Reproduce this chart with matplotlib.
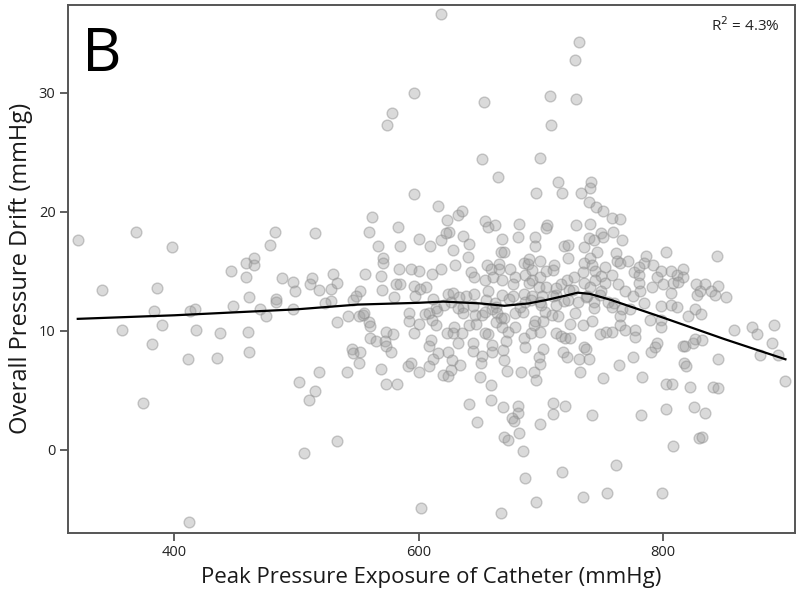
import matplotlib
matplotlib.use("Agg")
import matplotlib.pyplot as plt
import numpy as np

plt.rcParams['font.family'] = ['Open Sans', 'DejaVu Sans']

# ---- data ----
x_left = [321, 341, 369, 386, 398, 446, 459, 459, 465, 465, 478, 482, 488, 497, 499, 461, 483,
          357, 382, 383, 390, 374, 411, 412, 413, 417, 418, 435, 437, 448, 461, 460, 470, 475, 483, 497, 502]
y_left = [17.6, 13.4, 18.3, 13.6, 17.0, 15.0, 15.7, 14.5, 16.1, 15.5, 17.2, 18.3, 14.4, 14.1, 13.3, 12.8, 12.7,
          10.1, 8.9, 11.7, 10.5, 3.9, 7.6, -6.1, 11.7, 11.8, 10.1, 7.7, 9.8, 12.1, 8.2, 9.9, 11.8, 11.2, 12.4, 11.8, 5.7]

x_top = [618, 731, 728, 596, 653, 707, 729, 708, 574, 578]
y_top = [36.6, 34.3, 32.8, 30.0, 29.2, 29.7, 29.5, 27.3, 27.3, 28.3]

x_b = [596, 562, 515, 559, 583, 600, 567, 585, 571, 571, 584, 594, 600, 556, 569, 530, 513, 511, 518, 528,
       533, 570, 581, 585, 596, 601, 552, 549, 546, 528, 523, 580, 597,
       542, 533, 551, 554, 555, 559, 560, 592, 592, 600, 596, 605, 573, 579, 560, 565, 572, 573, 545, 552,
       546, 551, 577, 569, 518, 541, 591, 594, 600, 573, 582, 515, 510, 533, 506]
y_b = [21.5, 19.6, 18.2, 18.3, 18.7, 17.7, 17.1, 17.1, 16.1, 15.7, 15.2, 15.2, 15.0, 14.8, 14.6, 14.8, 14.4, 13.9, 13.4, 13.5,
       14.0, 13.4, 13.9, 13.9, 13.8, 13.5, 13.3, 12.9, 12.6, 12.5, 12.3, 12.8, 12.9,
       11.2, 10.7, 11.2, 11.3, 11.5, 10.7, 10.4, 11.5, 10.8, 10.6, 9.8, 11.4, 9.9, 9.7, 9.4, 9.1, 9.1, 8.7, 8.5, 8.2,
       8.1, 7.3, 8.2, 6.8, 6.5, 6.5, 7.0, 7.3, 6.5, 5.5, 5.5, 4.9, 4.2, 0.7, -0.3]

x_c = [652, 699, 665, 696, 616, 632, 635, 623, 654, 657, 662, 682, 705, 704, 625, 622, 636, 668, 681, 695,
       618, 609, 641, 695, 628, 667, 670, 640, 630, 618, 611, 656, 659, 666, 666, 675, 686, 689, 690, 699,
       643, 645, 654, 661, 668, 679, 687, 693, 693, 699, 704, 677, 690, 698, 704, 606, 624, 628, 639, 645,
       657, 668, 677, 686, 693, 701, 614, 636, 663, 687, 699,
       608, 615, 611, 614, 626, 632, 636, 629, 623, 628, 635, 641, 647, 646, 652, 654, 660, 664, 667, 663,
       670, 679, 685, 668, 673, 679, 654, 657, 660, 671, 669, 686, 692, 699, 694, 695, 702, 703, 687, 702,
       610, 608, 632, 644, 644, 652, 660, 616, 624, 612, 627, 634, 608, 626, 620, 624, 651, 670, 672, 650,
       684, 694, 698, 699, 696, 659, 641, 659, 669, 681, 681, 676, 678, 648, 699, 682, 670, 673, 685]
y_c = [24.4, 24.5, 22.9, 21.6, 20.5, 19.7, 20.1, 19.3, 19.2, 18.7, 18.9, 19.0, 18.9, 18.6, 18.3, 18.2, 18.0, 17.7, 17.9, 17.9,
       17.6, 17.1, 17.3, 17.1, 16.8, 16.6, 16.6, 16.2, 15.5, 15.2, 14.8, 15.5, 15.2, 15.6, 15.2, 15.2, 15.7, 15.6, 16.0, 15.9,
       14.9, 14.5, 14.3, 14.5, 14.3, 14.5, 14.7, 15.1, 14.3, 14.5, 15.0, 13.9, 14.0, 13.7, 13.7, 13.7, 13.1, 13.2, 12.9, 13.1,
       13.3, 13.0, 12.9, 13.1, 12.9, 12.9, 11.9, 12.0, 12.0, 12.4, 12.4,
       11.5, 11.7, 10.9, 10.5, 12.4, 11.9, 11.5, 10.3, 9.8, 9.8, 9.8, 10.5, 10.6, 11.3, 11.3, 11.6, 11.8, 11.5, 11.1, 10.7,
       11.1, 11.5, 11.6, 10.3, 9.9, 10.3, 9.8, 9.7, 8.8, 9.1, 8.4, 9.4, 9.8, 9.9, 10.5, 10.8, 10.8, 11.6, 8.6, 8.5,
       9.2, 8.7, 9.0, 9.0, 8.3, 7.9, 8.2, 8.1, 8.2, 7.6, 7.5, 7.1, 7.0, 6.7, 6.3, 6.2, 7.3, 7.5, 6.6, 6.1,
       6.5, 6.5, 7.8, 7.2, 5.9, 5.4, 3.8, 4.2, 3.6, 3.7, 3.1, 2.7, 2.4, 2.3, 2.2, 1.4, 1.1, 0.8, -0.1]

# points partly hidden along the fitted line in the dense middle
x_mid = [612, 621, 633, 644, 655, 662, 674, 683, 692, 700, 712, 719, 726, 737, 748, 760]
y_mid = [12.7, 12.2, 12.8, 12.1, 12.6, 12.3, 12.7, 12.0, 12.6, 12.2, 13.0, 12.5, 13.4, 12.8, 13.0, 12.3]

x_bottom = [602, 667, 696, 687, 717, 734, 754, 799, 761]
y_bottom = [-4.9, -5.3, -4.4, -2.4, -1.9, -4.0, -3.6, -3.6, -1.3]

x_d = [714, 741, 717, 733, 740, 739, 745, 751, 758, 765, 729, 740, 759, 749, 751, 739, 743, 766, 719, 722,
       735, 722, 746, 740, 802, 786, 761, 762, 765, 771, 784, 735, 742, 752, 711, 710, 734, 744, 749, 758,
       776, 780, 780, 792, 798, 795, 806, 721, 716, 727, 735, 744, 752, 763, 780, 791, 800, 808, 712, 723,
       740, 749, 769, 781, 806, 710, 722, 730, 738, 743, 755, 775, 784, 798, 806,
       712, 743, 758, 766, 773, 709, 714, 728, 724, 734, 742, 765, 765, 769, 777, 777, 789, 798, 798, 712,
       716, 720, 724, 748, 753, 758, 795, 793, 790, 735, 737, 718, 721, 731, 739, 775, 764, 732, 751, 783,
       802, 807, 710, 720, 710, 742, 782, 802, 808]
y_d = [22.5, 22.5, 21.6, 21.6, 22.0, 20.8, 20.4, 20.1, 19.5, 19.4, 18.9, 19.0, 18.3, 18.2, 17.9, 17.8, 17.6, 17.6, 17.1, 17.2,
       17.0, 16.1, 16.6, 16.1, 16.6, 16.3, 16.5, 15.9, 15.7, 15.9, 15.7, 15.7, 15.5, 15.4, 15.5, 15.1, 14.9, 15.0, 14.6, 14.7,
       14.9, 14.7, 15.4, 15.5, 15.0, 14.5, 15.0, 14.3, 13.9, 14.5, 14.0, 14.3, 14.0, 13.9, 14.0, 13.7, 13.9, 14.0, 13.6, 13.4,
       13.7, 13.3, 13.3, 13.3, 13.2, 12.9, 12.6, 12.4, 12.9, 12.4, 12.4, 12.9, 12.3, 12.1, 12.2,
       12.2, 11.9, 12.0, 11.8, 11.8, 11.3, 11.2, 11.5, 10.6, 10.5, 10.8, 11.2, 10.5, 10.1, 10.1, 9.5, 10.9, 10.9, 10.3, 9.8,
       9.6, 9.4, 9.4, 9.7, 9.9, 9.9, 9.0, 8.6, 8.2, 8.6, 8.5, 8.2, 7.8, 7.6, 7.6, 7.8, 7.1, 6.5, 6.0, 6.1,
       5.5, 5.5, 3.9, 3.7, 3.0, 2.9, 2.9, 3.4, 0.3]

x_e = [844, 816, 811, 816, 812, 827, 834, 845, 830, 839, 842, 851, 828, 811, 826, 820, 831, 858, 873, 877,
       891, 889, 879, 894, 900, 816, 818, 824, 826, 832, 845, 817, 819, 822, 841, 845, 825, 834, 829, 832]
y_e = [16.3, 15.2, 14.7, 14.5, 14.1, 13.9, 13.9, 13.8, 13.3, 13.3, 13.0, 12.8, 13.0, 12.0, 11.8, 11.2, 11.4, 10.1, 10.3, 9.7,
       10.5, 9.0, 8.0, 8.0, 5.8, 8.7, 8.7, 9.0, 9.3, 9.2, 7.6, 7.3, 7.0, 5.3, 5.3, 5.2, 3.6, 3.1, 1.0, 1.1]

# smooth fit line
fit_x = [321, 400, 500, 550, 600, 620, 650, 670, 690, 705, 720, 730, 740, 757, 800, 850, 900]
fit_y = [11.0, 11.3, 11.8, 12.2, 12.35, 12.45, 12.3, 12.1, 12.3, 12.6, 12.95, 13.2, 13.1, 12.6, 11.1, 9.3, 7.6]

x_ticks = [400, 600, 800]
y_ticks = [0, 10, 20, 30]

x_all = np.array(x_left + x_top + x_b + x_c + x_mid + x_bottom + x_d + x_e, dtype=float)
y_all = np.array(y_left + y_top + y_b + y_c + y_mid + y_bottom + y_d + y_e, dtype=float)

fig = plt.figure(figsize=(8.0, 6.07), dpi=100)
ax = fig.add_axes([0.085, 0.122, 0.909, 0.870])

ax.scatter(x_all, y_all, s=60, facecolor=(0.62, 0.62, 0.62, 0.38),
           edgecolor=(0.55, 0.55, 0.55, 0.45), linewidth=1.0, zorder=2)
ax.plot(fit_x, fit_y, color='black', lw=1.6, zorder=3)

ax.set_xlim(313, 908)
ax.set_ylim(-7.0, 37.4)
ax.set_xticks(x_ticks)
ax.set_yticks(y_ticks)
ax.tick_params(axis='both', direction='out', length=6, width=1.2, color='#444444',
               labelsize=10.5, labelcolor='#222222', pad=3)
for sp in ax.spines.values():
    sp.set_color('#555555')
    sp.set_linewidth(1.4)

ax.set_xlabel('Peak Pressure Exposure of Catheter (mmHg)', fontsize=16, color='#1a1a1a', labelpad=5)
ax.set_ylabel('Overall Pressure Drift (mmHg)', fontsize=17, color='#1a1a1a', labelpad=4)

ax.text(0.019, 0.962, 'B', transform=ax.transAxes, fontsize=44, ha='left', va='top', color='black')
ax.text(0.979, 0.96, 'R$^2$ = 4.3%', transform=ax.transAxes, fontsize=11, ha='right', va='center', color='#222222')

fig.savefig('out.png', dpi=100)
